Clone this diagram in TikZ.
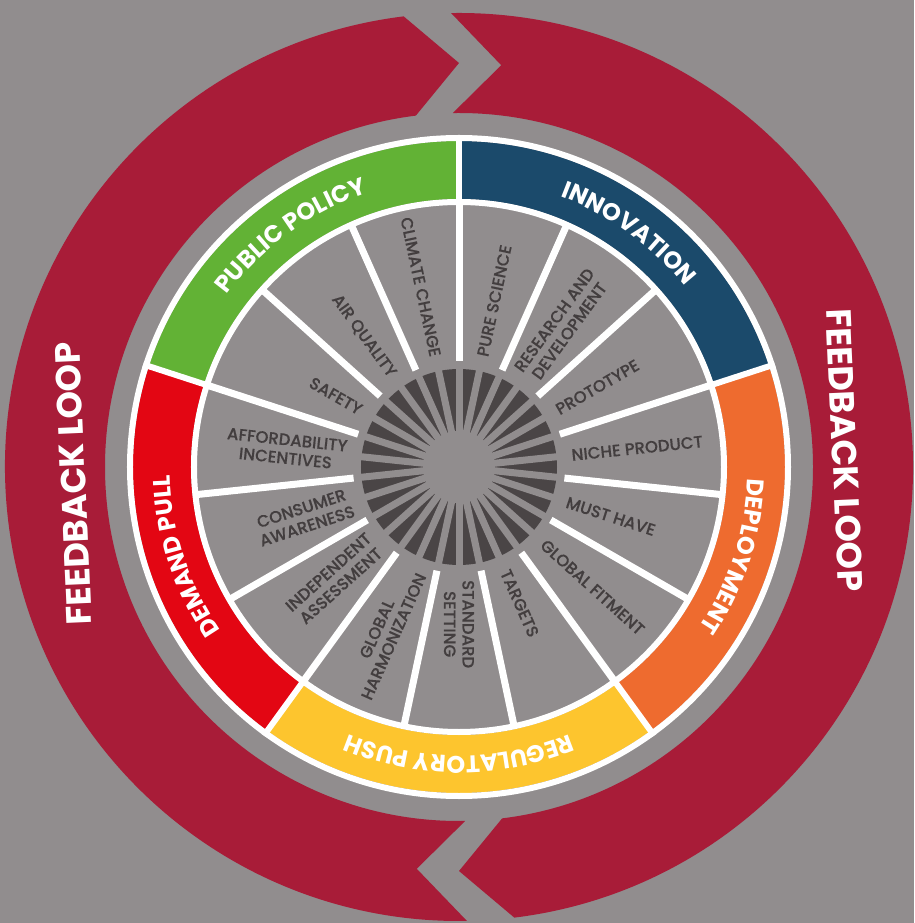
\documentclass[tikz,border=0pt]{standalone}
\usepackage{fontspec}
\setmainfont{Poppins}
\IfFontExistsTF{Poppins Medium}
  {\newfontfamily\labfont{Poppins Medium}[FakeBold=0.3]}
  {\newfontfamily\labfont{Poppins}[FakeBold=0.8]}
\usetikzlibrary{decorations.text}
\definecolor{bggrey}{HTML}{918D8E}
\definecolor{loopred}{HTML}{A81C38}
\definecolor{policygreen}{HTML}{62B235}
\definecolor{innoblue}{HTML}{1B4A6B}
\definecolor{deployorange}{HTML}{EE6B2F}
\definecolor{pushyellow}{HTML}{FDC52E}
\definecolor{pullred}{HTML}{E30613}
\definecolor{sundark}{HTML}{4A4546}
\definecolor{labgrey}{HTML}{433E3F}
\newcommand{\bandfont}{\color{white}\bfseries\fontsize{24}{24}\selectfont}

\begin{document}
\begin{tikzpicture}[x=1pt,y=1pt,
  sep/.style={white,line width=6pt},
  spoke/.style={white,line width=7pt},
  ray/.style={bggrey,line width=7pt},
  band/.style={line width=58pt},
  lab/.style={text=labgrey,font=\labfont\fontsize{16.5}{18.5}\selectfont,align=center,inner sep=0pt},
  loopfont/.style={text=white,font=\bfseries\fontsize{35}{35}\selectfont,inner sep=0pt}]
 \useasboundingbox[fill=bggrey] (-459,-456) rectangle (455,467);
 % feedback loop
 \fill[loopred] (271:454) -- (264:404) -- (271:354) arc[start angle=271,end angle=97,radius=354]
   -- (90:404) -- (97:454) arc[start angle=97,end angle=271,radius=454] -- cycle;
 \fill[loopred] (91:454) -- (84:404) -- (91:354) arc[start angle=91,end angle=-83,radius=354]
   -- (-90:404) -- (-83:454) arc[start angle=-83,end angle=91,radius=454] -- cycle;
 \node[loopfont,rotate=92.5] (loopL) at (182.5:386) {FEEDBACK LOOP};
 \node[loopfont,rotate=-87.5] (loopR) at (2.5:386) {FEEDBACK LOOP};
 % coloured ring
 \foreach \s/\c in {90/innoblue,18/deployorange,-54/pushyellow,-126/pullred,162/policygreen}
   \draw[band,\c] (\s:297) arc[start angle=\s,end angle=\s-72,radius=297];
 \draw[sep] (0,0) circle (265);
 \draw[sep] (0,0) circle (329);
 \foreach \s in {90,18,-54,-126,162} \draw[sep] (\s:262) -- (\s:332);
 % spokes
 \foreach \a in {90,66,...,-246} \draw[spoke] (\a:106) -- (\a:266);
 % sunburst
 \fill[sundark] (0,0) circle (98);
 \foreach \a in {90,102,...,438} \draw[ray] (0,0) -- (\a:100);
 \fill[bggrey] (0,0) circle (36);
 % segment labels
 \foreach \a/\r/\an/\txt [count=\i] in {78/78/west/PURE SCIENCE,
   54/54/west/{RESEARCH AND\\DEVELOPMENT}, 30/30/west/PROTOTYPE,
   6/6/west/NICHE PRODUCT, -18/-18/west/MUST HAVE, -42/-42/west/GLOBAL FITMENT,
   -66/-66/west/TARGETS, -90/-90/west/{STANDARD\\SETTING},
   -114/66/east/{GLOBAL\\HARMONIZATION}, -138/42/east/{INDEPENDENT\\ASSESSMENT},
   -162/18/east/{CONSUMER\\AWARENESS}, 174/-6/east/{AFFORDABILITY\\INCENTIVES},
   150/-30/east/SAFETY, 126/-54/east/AIR QUALITY, 102/-78/east/CLIMATE CHANGE}
   \node[lab,rotate=\r,anchor=\an] (lab\i) at (\a:113) {\txt};
 % band titles
 \foreach \m/\txt in {54/INNOVATION,-18/DEPLOYMENT,-90/REGULATORY PUSH,-162/DEMAND PULL,126/PUBLIC POLICY}
   \path[decorate,decoration={text along path,text align=center,
     text/.expanded={|\noexpand\bandfont|\txt}}]
     (\m+36:289) arc[start angle=\m+36,end angle=\m-36,radius=289];
\end{tikzpicture}
\end{document}
